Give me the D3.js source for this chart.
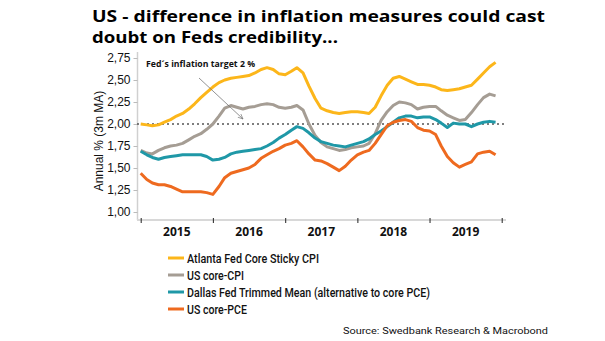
<!DOCTYPE html>
<html><head><meta charset="utf-8">
<script src="https://cdn.jsdelivr.net/npm/d3@7"></script>
<style>body{margin:0;background:#fff}svg{display:block}</style>
</head><body><svg id="c" width="605" height="341"></svg>
<script>
const months = d3.range(60).map(i => new Date(2015, i, 1));
const yearTicks = ["2015","2016","2017","2018","2019"];
const yTicks = [1.00,1.25,1.50,1.75,2.00,2.25,2.50,2.75];
const seriesNames = ["Atlanta Fed Core Sticky CPI","US core-CPI","Dallas Fed Trimmed Mean (alternative to core PCE)","US core-PCE"];
const atlanta = [2.00,1.99,1.98,1.99,2.02,2.05,2.09,2.12,2.17,2.23,2.30,2.36,2.42,2.47,2.50,2.52,2.53,2.54,2.55,2.58,2.62,2.64,2.62,2.57,2.56,2.60,2.64,2.58,2.43,2.29,2.18,2.15,2.13,2.12,2.13,2.14,2.14,2.13,2.12,2.19,2.32,2.44,2.52,2.54,2.51,2.48,2.45,2.45,2.44,2.42,2.39,2.38,2.39,2.40,2.42,2.44,2.51,2.58,2.65,2.70];
const coreCPI = [1.70,1.67,1.66,1.70,1.73,1.75,1.76,1.78,1.82,1.86,1.89,1.94,2.00,2.09,2.18,2.21,2.19,2.17,2.19,2.20,2.22,2.23,2.22,2.19,2.18,2.19,2.21,2.16,2.00,1.87,1.79,1.74,1.72,1.70,1.71,1.73,1.74,1.75,1.78,1.89,2.04,2.14,2.21,2.25,2.24,2.22,2.17,2.19,2.20,2.20,2.15,2.10,2.07,2.04,2.05,2.13,2.22,2.30,2.34,2.32];
const dallas = [1.69,1.65,1.62,1.60,1.62,1.63,1.64,1.65,1.65,1.65,1.65,1.63,1.59,1.60,1.62,1.66,1.68,1.69,1.70,1.71,1.72,1.75,1.79,1.84,1.88,1.93,1.97,1.95,1.90,1.84,1.80,1.78,1.76,1.75,1.74,1.76,1.78,1.80,1.83,1.88,1.92,1.97,2.02,2.07,2.09,2.09,2.07,2.08,2.08,2.05,2.01,1.96,2.01,2.00,2.00,1.97,2.00,2.02,2.03,2.02];
const corePCE = [1.44,1.37,1.33,1.31,1.31,1.29,1.26,1.23,1.23,1.23,1.23,1.22,1.20,1.29,1.39,1.44,1.46,1.48,1.50,1.54,1.61,1.65,1.69,1.72,1.76,1.78,1.81,1.74,1.66,1.59,1.58,1.55,1.51,1.47,1.52,1.59,1.65,1.68,1.70,1.78,1.88,1.98,2.02,2.04,2.05,2.03,1.96,1.93,1.92,1.88,1.75,1.63,1.56,1.51,1.54,1.57,1.66,1.68,1.69,1.65];
const colors = ["#FCB61A","#A59D94","#1F98A7","#EE6A1F"];
const allSeries = [atlanta, coreCPI, dallas, corePCE];

const svg = d3.select("#c");
const x = d3.scaleTime().domain([new Date(2015,0,1), new Date(2020,0,1)]).range([140.7, 501.7]);
const y = d3.scaleLinear().domain([1, 2.75]).range([212, 58]);

// title
svg.append("text").attr("x",92).attr("y",22).attr("font-family","Open Sans").attr("font-weight","bold").attr("font-size",16.5).attr("fill","#000")
  .attr("textLength",453).attr("lengthAdjust","spacingAndGlyphs").text("US - difference in inflation measures could cast");
svg.append("text").attr("x",92).attr("y",43).attr("font-family","Open Sans").attr("font-weight","bold").attr("font-size",16.5).attr("fill","#000")
  .attr("textLength",246).attr("lengthAdjust","spacingAndGlyphs").text("doubt on Feds credibility...");

// y axis
const ya = svg.append("g").attr("transform","translate(137.5,0)")
  .call(d3.axisLeft(y).tickValues(yTicks).tickSize(4).tickPadding(3).tickFormat(d => d3.format(".2f")(d).replace(".",",")));
ya.select(".domain").attr("stroke","#d0d0d0").attr("stroke-width",1.5).attr("d","M0,52V220");
ya.selectAll(".tick line").attr("stroke","#bbb");
ya.selectAll(".tick text").attr("font-family","Liberation Sans").attr("font-size",12).attr("fill","#111");

svg.append("text").attr("transform","translate(103,141) rotate(-90)").attr("text-anchor","middle")
  .attr("font-family","Liberation Sans").attr("font-size",12).attr("fill","#111").text("Annual % (3m MA)");

// x axis
const xa = svg.append("g").attr("transform","translate(0,220)")
  .call(d3.axisBottom(x).ticks(d3.timeYear.every(1)).tickSize(3).tickFormat(""));
xa.select(".domain").attr("stroke","#d8d8d8").attr("stroke-width",2).attr("d","M137,0H506");
xa.selectAll(".tick line").attr("stroke","#222").attr("stroke-width",1).attr("y1",-2).attr("y2",3);
svg.append("g").selectAll("text").data(yearTicks).join("text")
  .attr("x", d => (x(new Date(+d,0,1)) + x(new Date(+d+1,0,1)))/2).attr("y",236)
  .attr("text-anchor","middle").attr("font-family","Open Sans").attr("font-weight","bold").attr("font-size",12).attr("fill","#111").text(d => d);

// target line
svg.append("line").attr("x1",137).attr("x2",506).attr("y1",y(2)).attr("y2",y(2))
  .attr("stroke","#555").attr("stroke-width",1.5).attr("stroke-dasharray","2,3");

// lines
const line = d3.line().x((d,i) => x(months[i])).y(d => y(d));
svg.append("g").selectAll("path").data(allSeries).join("path")
  .attr("d", line).attr("fill","none").attr("stroke",(d,i)=>colors[i]).attr("stroke-width",3).attr("stroke-linejoin","round");

// annotation
svg.append("defs").append("marker").attr("id","ah").attr("viewBox","0 0 10 10").attr("refX",9).attr("refY",5)
  .attr("markerWidth",7).attr("markerHeight",7).attr("orient","auto")
  .append("path").attr("d","M0,1L9,5L0,9").attr("fill","none").attr("stroke","#777").attr("stroke-width",1.2);
svg.append("line").attr("x1",199).attr("y1",78).attr("x2",243).attr("y2",119).attr("stroke","#777").attr("stroke-width",0.8).attr("marker-end","url(#ah)");
svg.append("text").attr("x",146).attr("y",67).attr("font-family","Open Sans").attr("font-weight","bold").attr("font-size",9).attr("fill","#111")
  .attr("textLength",109).attr("lengthAdjust","spacingAndGlyphs").text("Fed´s inflation target 2 %");

// legend
const legendWidths = [132, 57, 243, 60];
const lg = svg.append("g").selectAll("g").data(seriesNames).join("g").attr("transform",(d,i)=>`translate(168,${258 + i*17})`);
lg.append("line").attr("x1",0).attr("x2",16).attr("y1",0).attr("y2",0).attr("stroke",(d,i)=>colors[i]).attr("stroke-width",3);
lg.append("text").attr("x",19).attr("y",4.5).attr("font-family","Roboto").attr("font-weight",500).attr("font-size",12).attr("fill","#111")
  .attr("textLength",(d,i)=>legendWidths[i]).attr("lengthAdjust","spacingAndGlyphs").text(d => d);

svg.append("text").attr("x",548).attr("y",334).attr("text-anchor","end").attr("font-family","Roboto").attr("font-size",9.5).attr("fill","#111")
  .attr("textLength",205).attr("lengthAdjust","spacingAndGlyphs").text("Source: Swedbank Research & Macrobond");
</script></body></html>
